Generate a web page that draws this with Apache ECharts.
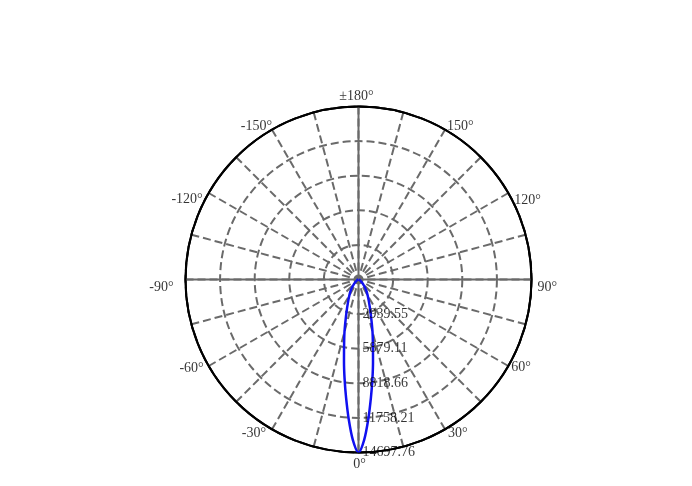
<!DOCTYPE html>
<html>
<head>
<meta charset="utf-8">
<script src="https://cdn.jsdelivr.net/npm/echarts@6/dist/echarts.min.js"></script>
<style>html,body{margin:0;padding:0;background:#fff;}#c{width:692px;height:486px;}</style>
</head>
<body>
<div id="c"></div>
<script>
// Luminous intensity distribution (cd) vs. angle (degrees)
const angles = [-180,-150,-120,-90,-75,-60,-45,-36,-30,-25,-20,-15,-12,-10,-8,-6,-4,-2,0,2,4,6,8,10,12,15,20,25,30,36,45,60,75,90,120,150,180];
const intensity = [0,0,0,0,30,150,550,1100,1550,2100,3000,4600,5900,7100,8500,10100,11900,13650,14697.76,13650,11900,10100,8500,7100,5900,4600,3000,2100,1550,1100,550,150,30,0,0,0,0];
const radiusTickLabels = ['2939.55','5879.11','8818.66','11758.21','14697.76'];
const angleTicks = [180,150,120,90,60,30,0,-30,-60,-90,-120,-150];
const angleTickLabels = ['±180°','150°','120°','90°','60°','30°','0°','-30°','-60°','-90°','-120°','-150°'];
const radiusMax = 14697.76;

// label placement styles (pixel offsets from the rim point, alignment)
const angleLabelStyle = {
  '180': { off: [-2, -10], align: 'center' },
  '150': { off: [2, -3], align: 'left' },
  '120': { off: [6, 7], align: 'left' },
  '90': { off: [6, 8], align: 'left' },
  '60': { off: [3, 1], align: 'left' },
  '30': { off: [3, 4], align: 'left' },
  '0': { off: [1, 12], align: 'center' },
  '-30': { off: [-6, 4], align: 'right' },
  '-60': { off: [-5, 2], align: 'right' },
  '-90': { off: [-12, 8], align: 'right' },
  '-120': { off: [-6, 6], align: 'right' },
  '-150': { off: [0, -3], align: 'right' }
};

const font = '"Liberation Serif", "Times New Roman", serif';
const lineData = angles.map((a, i) => [intensity[i], a]);
const tickData = radiusTickLabels.map(t => [parseFloat(t), 0, t]);
const angleLabelData = angleTicks.map((a, i) => {
  const s = angleLabelStyle[String(a)];
  return {
    value: [radiusMax, a, angleTickLabels[i]],
    label: { position: s.off, align: s.align, verticalAlign: 'middle' }
  };
});

const chart = echarts.init(document.getElementById('c'));
chart.setOption({
  backgroundColor: '#fff',
  animation: false,
  polar: [
    { center: [358.5, 279.5], radius: 173 },
    { center: [358.5, 279.5], radius: 173 }
  ],
  angleAxis: [
    {
      polarIndex: 0, type: 'value', min: -180, max: 180, interval: 15,
      startAngle: 90, clockwise: false,
      axisLine: { show: true, lineStyle: { color: '#000', width: 2 } },
      axisTick: { show: false },
      axisLabel: { show: false },
      splitLine: { show: true, lineStyle: { color: '#6a6a6a', width: 2, type: [8, 4] } },
      z: 1
    },
    {
      polarIndex: 1, type: 'value', min: -180, max: 180, interval: 90,
      startAngle: 90, clockwise: false,
      axisLine: { show: true, lineStyle: { color: '#000', width: 2 } },
      axisTick: { show: false },
      axisLabel: { show: false },
      splitLine: { show: true, lineStyle: { color: '#6a6a6a', width: 2, type: 'solid' } },
      z: 2
    }
  ],
  radiusAxis: [
    {
      polarIndex: 0, type: 'value', min: 0, max: radiusMax, interval: radiusMax / 5,
      axisLine: { show: false }, axisTick: { show: false }, axisLabel: { show: false },
      splitLine: { show: true, lineStyle: { color: '#6a6a6a', width: 2, type: [8, 4] } },
      z: 1
    },
    {
      polarIndex: 1, type: 'value', min: 0, max: radiusMax, interval: radiusMax / 5,
      axisLine: { show: false }, axisTick: { show: false }, axisLabel: { show: false },
      splitLine: { show: false }
    }
  ],
  series: [
    {
      type: 'line', coordinateSystem: 'polar', polarIndex: 0,
      data: lineData, smooth: 0.3, symbol: 'none',
      lineStyle: { color: '#1010f0', width: 2.5 }, z: 5
    },
    {
      type: 'scatter', coordinateSystem: 'polar', polarIndex: 0,
      data: tickData, symbolSize: 0, silent: true,
      label: {
        show: true, position: 'right', distance: 4,
        formatter: p => p.data[2],
        color: '#000', fontFamily: font, fontSize: 14
      }, z: 6
    },
    {
      type: 'scatter', coordinateSystem: 'polar', polarIndex: 0,
      data: angleLabelData, symbolSize: 0, silent: true,
      label: {
        show: true,
        formatter: p => p.value[2],
        color: '#000', fontFamily: font, fontSize: 14
      }, z: 6
    }
  ]
});
</script>
</body>
</html>
